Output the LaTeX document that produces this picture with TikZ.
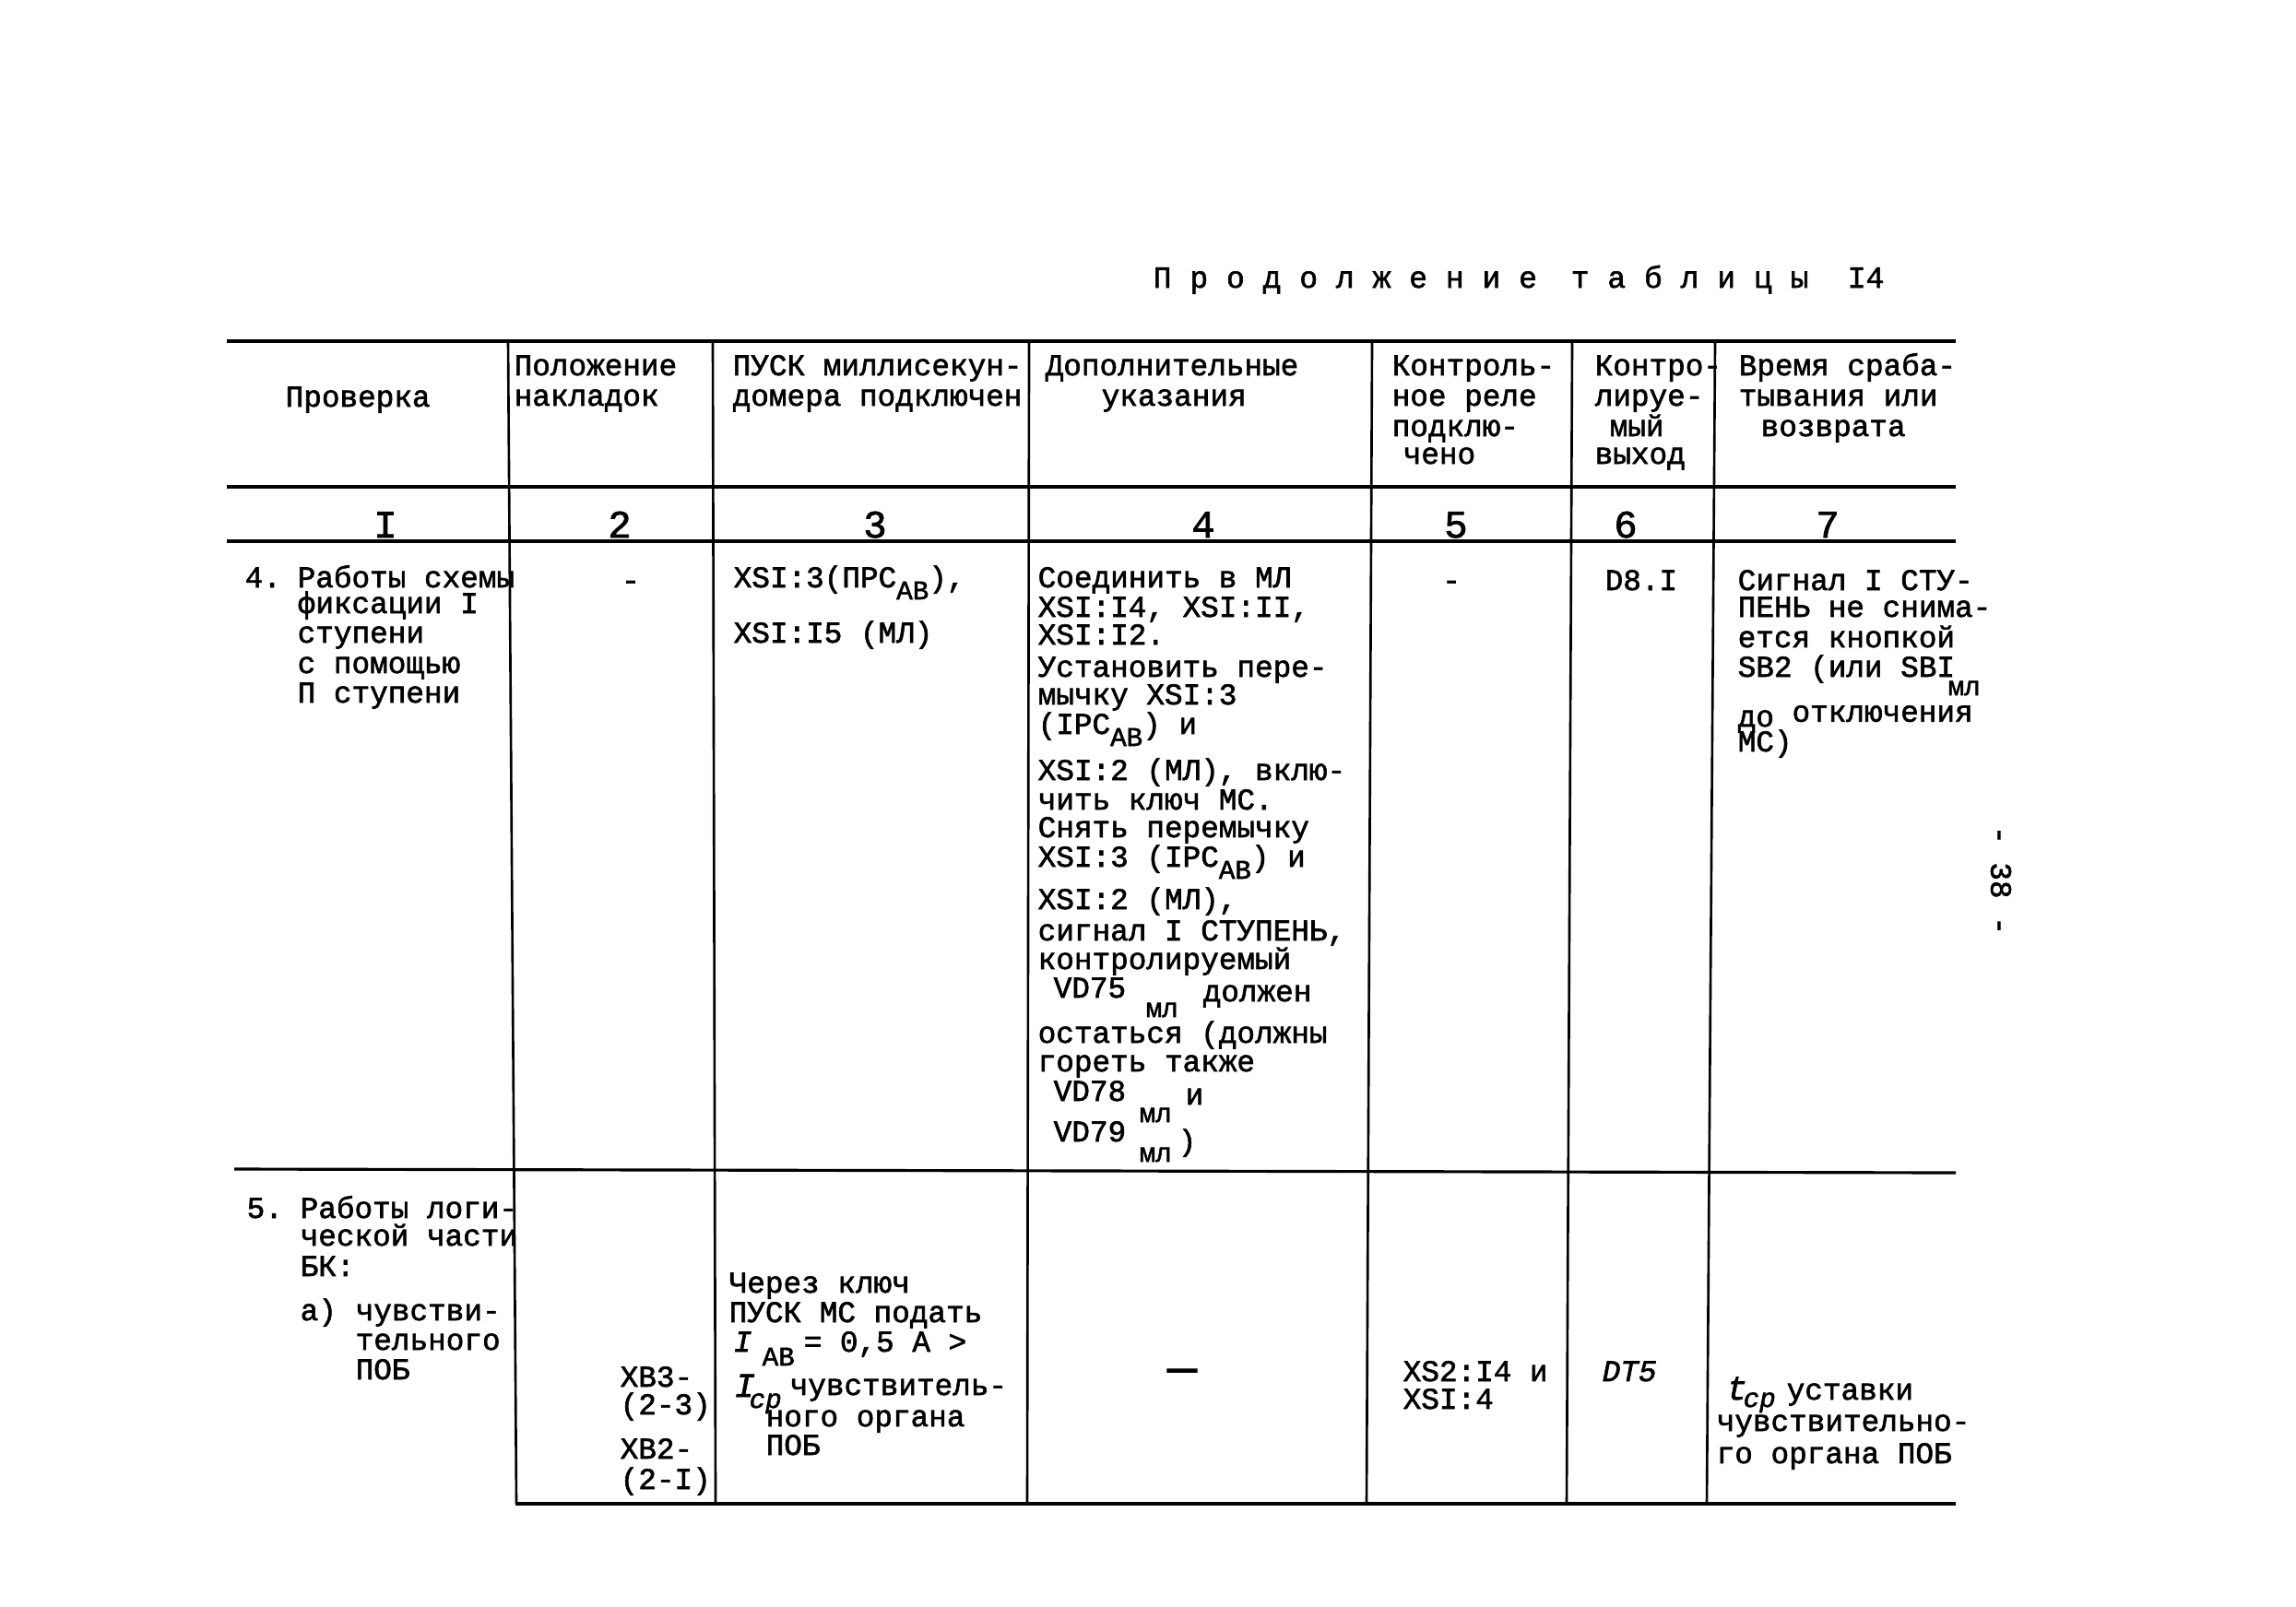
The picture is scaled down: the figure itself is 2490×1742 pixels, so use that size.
\documentclass[tikz,border=0pt]{standalone}
\usepackage{fontspec}
\setmainfont{Liberation Mono}[FakeBold=1.8]
\newcommand{\lo}[2][3.7pt]{\raisebox{-#1}{\fontsize{8.3}{9}\selectfont #2}}
\begin{document}
\begin{tikzpicture}[x=0.1mm,y=-0.1mm,
  txt/.style={anchor=base west, inner sep=0pt, font=\fontsize{9.3}{10}\selectfont},
  sb/.style={anchor=base west, inner sep=0pt, font=\fontsize{8.3}{9}\selectfont},
  num/.style={anchor=base, inner sep=0pt, font=\fontsize{12}{13}\selectfont},
  dsh/.style={anchor=base, inner sep=0pt, font=\fontsize{9.3}{10}\selectfont},
  hrule/.style={line width=1.2pt},
  mrule/.style={line width=0.9pt},
  vrule/.style={line width=0.75pt}]
\fill[white] (0,0) rectangle (2490,1742);
\useasboundingbox (0,0) rectangle (2490,1742);

% title
\node[txt,font=\fontsize{9.4}{10}\selectfont] (ti1) at (1250,312) {П р о д о л ж е н и е};
\node[txt,font=\fontsize{9.4}{10}\selectfont] (ti2) at (1703,312) {т а б л и ц ы};
\node[txt,font=\fontsize{9.4}{10}\selectfont] (ti3) at (2003,312) {I4};

% rules
\draw[hrule] (246,370) -- (2121,370);
\draw[hrule] (246,528) -- (2121,528);
\draw[hrule] (246,587) -- (2121,587);
\draw[mrule] (254,1268) -- (2121,1272);
\draw[hrule] (559,1631) -- (2121,1631);
\draw[vrule] (551,370) -- (560,1631);
\draw[vrule] (773,370) -- (776,1631);
\draw[vrule] (1116,370) -- (1114,1631);
\draw[vrule] (1488,370) -- (1482,1631);
\draw[vrule] (1705,370) -- (1699,1631);
\draw[vrule] (1860,370) -- (1851,1631);

% header
\node[txt] (h1) at (309,441) {Проверка};
\node[txt] (h2a) at (557,407) {Положение};
\node[txt] (h2b) at (557,440) {накладок};
\node[txt] (h3a) at (794,407) {ПУСК миллисекун-};
\node[txt] (h3b) at (794,440) {домера подключен};
\node[txt] (h4a) at (1133,407) {Дополнительные};
\node[txt] (h4b) at (1194,440) {указания};
\node[txt] (h5a) at (1509,407) {Контроль-};
\node[txt] (h5b) at (1509,440) {ное реле};
\node[txt] (h5c) at (1509,473) {подклю-};
\node[txt] (h5d) at (1521,503) {чено};
\node[txt] (h6a) at (1729,407) {Контро-};
\node[txt] (h6b) at (1729,440) {лируе-};
\node[txt] (h6c) at (1745,473) {мый};
\node[txt] (h6d) at (1729,503) {выход};
\node[txt] (h7a) at (1885,407) {Время сраба-};
\node[txt] (h7b) at (1885,440) {тывания или};
\node[txt] (h7c) at (1909,473) {возврата};

% column numbers
\node[num] (n1) at (418,583) {I};
\node[num] (n2) at (672,583) {2};
\node[num] (n3) at (949,583) {3};
\node[num] (n4) at (1305,583) {4};
\node[num] (n5) at (1579,583) {5};
\node[num] (n6) at (1763,583) {6};
\node[num] (n7) at (1982,583) {7};

% row 4
\node[txt] (r4n) at (265,637) {4.};
\node[txt] (r4a) at (322,637) {Работы схемы};
\node[txt] (r4b) at (322,665) {фиксации I};
\node[txt] (r4c) at (322,697) {ступени};
\node[txt] (r4d) at (322,730) {с помощью};
\node[txt] (r4e) at (322,762) {П ступени};
\node[dsh] (r4c2) at (684,640) {-};
\node[txt] (r4c3a) at (795,637) {XSI:3(ПРС\lo{AB}),};
\node[txt] (r4c3b) at (795,697) {XSI:I5 (МЛ)};
\node[txt] (r4d1) at (1125,637) {Соединить в МЛ};
\node[txt] (r4d2) at (1125,669) {XSI:I4, XSI:II,};
\node[txt] (r4d3) at (1125,699) {XSI:I2.};
\node[txt] (r4d4) at (1125,734) {Установить пере-};
\node[txt] (r4d5) at (1125,764) {мычку XSI:3};
\node[txt] (r4d6) at (1125,796) {(IPC\lo{AB}) и};
\node[txt] (r4d7) at (1125,846) {XSI:2 (МЛ), вклю-};
\node[txt] (r4d8) at (1125,878) {чить ключ МС.};
\node[txt] (r4d9) at (1125,908) {Снять перемычку};
\node[txt] (r4d10) at (1125,940) {XSI:3 (IPC\lo{AB}) и};
\node[txt] (r4d11) at (1125,986) {XSI:2 (МЛ),};
\node[txt] (r4d12) at (1125,1020) {сигнал I СТУПЕНЬ,};
\node[txt] (r4d13) at (1125,1051) {контролируемый};
\node[txt] (r4d14) at (1142,1082) {VD75};
\node[sb] (r4d14s) at (1242,1103) {мл};
\node[txt] (r4d14b) at (1304,1086) {должен};
\node[txt] (r4d15) at (1125,1131) {остаться (должны};
\node[txt] (r4d16) at (1125,1162) {гореть также};
\node[txt] (r4d17) at (1142,1194) {VD78};
\node[sb] (r4d17s) at (1235,1217) {мл};
\node[txt] (r4d17b) at (1285,1198) {и};
\node[txt] (r4d18) at (1142,1238) {VD79};
\node[sb] (r4d18s) at (1235,1260) {мл};
\node[txt] (r4d18b) at (1277,1248) {)};
\node[dsh] (r4c5) at (1574,640) {-};
\node[txt] (r4c6) at (1740,640) {D8.I};
\node[txt] (r4g1) at (1884,640) {Сигнал I СТУ-};
\node[txt] (r4g2) at (1884,669) {ПЕНЬ не снима-};
\node[txt] (r4g3) at (1884,702) {ется кнопкой};
\node[txt] (r4g4) at (1884,734) {SB2 (или SBI};
\node[sb] (r4g4s) at (2112,754) {мл};
\node[txt] (r4g5) at (1884,788) {до \raisebox{1.5pt}{отключения}};
\node[txt] (r4g6) at (1884,815) {МС)};

% row 5
\node[txt] (r5n) at (267,1321) {5.};
\node[txt] (r5a) at (325,1321) {Работы логи-};
\node[txt] (r5b) at (325,1351) {ческой части};
\node[txt] (r5c) at (325,1384) {БК:};
\node[txt] (r5d) at (325,1432) {а)};
\node[txt] (r5e) at (385,1432) {чувстви-};
\node[txt] (r5f) at (385,1464) {тельного};
\node[txt] (r5g) at (385,1496) {ПОБ};
\node[txt] (r5b1) at (672,1504) {XB3-};
\node[txt] (r5b2) at (672,1534) {(2-3)};
\node[txt] (r5b3) at (672,1582) {XB2-};
\node[txt] (r5b4) at (672,1615) {(2-I)};
\node[txt] (r5c1) at (790,1402) {Через ключ};
\node[txt] (r5c2) at (790,1434) {ПУСК МС подать};
\node[txt,font=\fontsize{9.3}{10}\selectfont\itshape] (r5c3) at (795,1466) {I};
\node[sb] (r5c3s) at (826,1481) {AB};
\node[txt] (r5c3b) at (871,1466) {= 0,5 А >};
\node[txt,font=\fontsize{10.5}{11}\selectfont\itshape] (r5c4) at (796,1515) {I};
\node[sb,font=\fontsize{8.3}{9}\selectfont\itshape] (r5c4s) at (812,1527) {ср};
\node[txt] (r5c4b) at (856,1513) {чувствитель-};
\node[txt] (r5c5) at (830,1547) {ного органа};
\node[txt] (r5c6) at (830,1578) {ПОБ};
\node[dsh,font=\fontsize{15}{16}\selectfont] (r5d1) at (1282,1500) {—};
\node[txt] (r5e1) at (1521,1498) {XS2:I4 и};
\node[txt] (r5e2) at (1521,1528) {XSI:4};
\node[txt,font=\fontsize{9.3}{10}\selectfont\itshape] (r5f1) at (1737,1498) {DT5};
\node[txt,font=\fontsize{10.5}{11}\selectfont\itshape] (r5g1) at (1872,1518) {t};
\node[sb,font=\fontsize{8.3}{9}\selectfont\itshape] (r5g1s) at (1890,1526) {ср};
\node[txt] (r5g1b) at (1937,1518) {уставки};
\node[txt] (r5g2) at (1861,1552) {чувствительно-};
\node[txt] (r5g3) at (1861,1587) {го органа ПОБ};

% page number
\node[inner sep=0pt, font=\fontsize{9.3}{10}\selectfont, rotate=-90] (pg) at (2170,955) {- 38 -};
\end{tikzpicture}
\end{document}
